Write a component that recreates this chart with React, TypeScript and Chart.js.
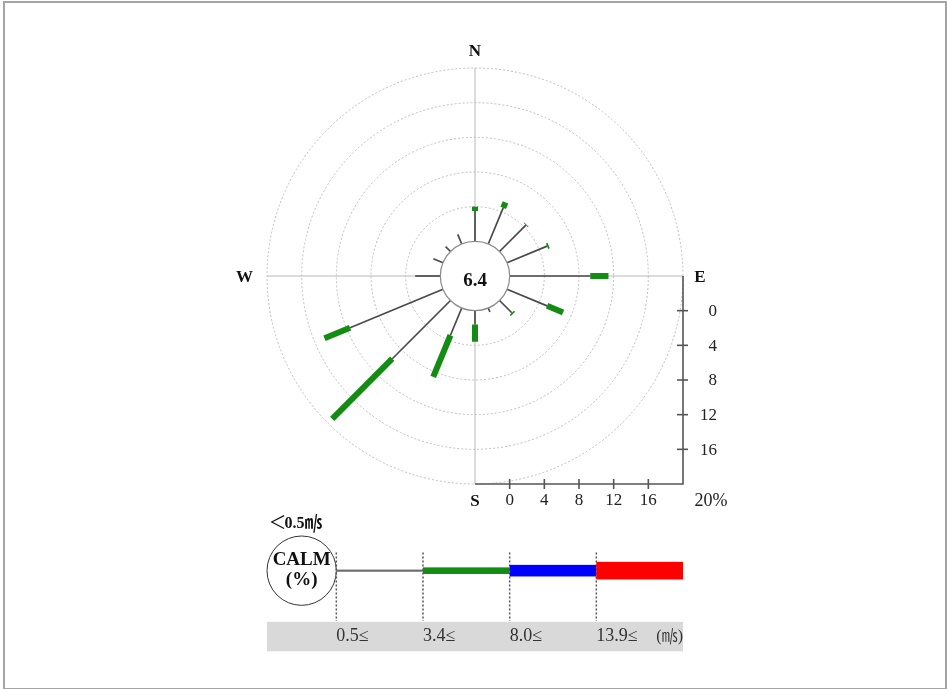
import React, { useEffect, useRef } from "react";
import { Chart, registerables } from "chart.js";

Chart.register(...registerables);

// ---------- data ----------
const directions = ["N", "NNE", "NE", "ENE", "E", "ESE", "SE", "SSE", "S", "SSW", "SW", "WSW", "W", "WNW", "NW", "NNW"];
const speedClassLabels = ["0.5≤", "3.4≤", "8.0≤", "13.9≤"];
const speedUnitLabel = "(㎧)";
const calmLess = "＜";
const calmThreshold = "0.5";
const calmUnit = "㎧";
// frequency (%) per direction for each speed class
const class1 = [3.5, 4.5, 4.3, 5.0, 9.3, 5.0, 2.0, 0.5, 1.6, 3.4, 9.5, 11.6, 2.9, 1.2, 0.8, 1.2];
const class2 = [0.5, 0.7, 0.1, 0.2, 2.1, 2.0, 0.2, 0, 2.0, 5.2, 9.8, 3.2, 0, 0, 0, 0];
const class3 = [0, 0, 0, 0, 0, 0, 0, 0, 0, 0, 0, 0, 0, 0, 0, 0];
const class4 = [0, 0, 0, 0, 0, 0, 0, 0, 0, 0, 0, 0, 0, 0, 0, 0];
const calmPercent = 6.4;
const axisTicks = [0, 4, 8, 12, 16];
const axisMaxLabel = "20%";
const axisMax = 20;
const cardinalLabels = ["N", "E", "S", "W"];

// ---------- style ----------
const CALM_R = 4; // radius of calm circle in axis units
const OUTER = CALM_R + axisMax;
const classColors = ["#4a4a4a", "#128c12", "#0000ff", "#ff0000"];
const classWidths = [1.7, 6, 11, 17];
const FONT = "'Liberation Serif', 'Times New Roman', 'Noto Sans CJK JP', serif";

const series = [class1, class2, class3, class4];

function buildDatasets() {
  const ds: any[] = [];
  directions.forEach((_, i) => {
    const ang = (i * 22.5 * Math.PI) / 180;
    let cum = 0;
    series.forEach((vals, c) => {
      const v = vals[i];
      if (v > 0) {
        const r0 = CALM_R + cum;
        const r1 = CALM_R + cum + v;
        ds.push({
          label: directions[i] + " " + speedClassLabels[c],
          data: [
            { x: r0 * Math.sin(ang), y: r0 * Math.cos(ang) },
            { x: r1 * Math.sin(ang), y: r1 * Math.cos(ang) },
          ],
          showLine: true,
          borderColor: classColors[c],
          backgroundColor: classColors[c],
          borderWidth: classWidths[c],
          borderCapStyle: "butt",
          pointRadius: 0,
          pointHoverRadius: 0,
          clip: false,
        });
        cum += v;
      }
    });
  });
  return ds;
}

const rosePlugin = {
  id: "rosePlugin",
  beforeDatasetsDraw(chart: any) {
    const { ctx } = chart;
    const xs = chart.scales.x;
    const ys = chart.scales.y;
    const px = (v: number) => xs.getPixelForValue(v);
    const py = (v: number) => ys.getPixelForValue(v);
    const unit = px(1) - px(0);
    const cx = px(0);
    const cy = py(0);
    ctx.save();
    // spokes N/E/S/W
    ctx.strokeStyle = "#dcdcdc";
    ctx.lineWidth = 2;
    ctx.setLineDash([]);
    [
      [0, OUTER],
      [OUTER, 0],
      [0, -OUTER],
      [-OUTER, 0],
    ].forEach(([x, y]) => {
      ctx.beginPath();
      ctx.moveTo(cx, cy);
      ctx.lineTo(px(x), py(y));
      ctx.stroke();
    });
    // dotted rings
    ctx.strokeStyle = "#bdbdbd";
    ctx.lineWidth = 1;
    ctx.setLineDash([2, 2]);
    axisTicks.concat([axisMax]).forEach((t) => {
      if (t === 0) return;
      ctx.beginPath();
      ctx.arc(cx, cy, (CALM_R + t) * unit, 0, Math.PI * 2);
      ctx.stroke();
    });
    ctx.setLineDash([]);
    // frame axes
    ctx.strokeStyle = "#555";
    ctx.lineWidth = 1.6;
    ctx.beginPath();
    ctx.moveTo(px(OUTER), py(0));
    ctx.lineTo(px(OUTER), py(-OUTER));
    ctx.lineTo(px(0), py(-OUTER));
    ctx.stroke();
    // ticks
    ctx.fillStyle = "#222";
    ctx.font = `17px ${FONT}`;
    axisTicks.forEach((t) => {
      const yy = py(-(CALM_R + t));
      ctx.beginPath();
      ctx.moveTo(px(OUTER) - 6, yy);
      ctx.lineTo(px(OUTER) + 5, yy);
      ctx.stroke();
      ctx.textAlign = "right";
      ctx.textBaseline = "middle";
      ctx.fillText(String(t), px(OUTER) + 34, yy + 1);
      const xx = px(CALM_R + t);
      ctx.beginPath();
      ctx.moveTo(xx, py(-OUTER) - 5);
      ctx.lineTo(xx, py(-OUTER) + 5);
      ctx.stroke();
      ctx.textAlign = "center";
      ctx.fillText(String(t), xx, py(-OUTER) + 17);
    });
    ctx.textAlign = "center";
    ctx.font = `18px ${FONT}`;
    ctx.fillText(axisMaxLabel, px(OUTER) + 28, py(-OUTER) + 17);
    // cardinal labels
    ctx.font = `bold 17px ${FONT}`;
    ctx.fillStyle = "#111";
    ctx.textBaseline = "middle";
    const lp = OUTER + 2;
    ctx.fillText(cardinalLabels[0], px(0), py(lp) + 1);
    ctx.fillText(cardinalLabels[1], px(lp) - 0.5, py(0) + 2);
    ctx.fillText(cardinalLabels[2], px(0), py(-lp));
    ctx.fillText(cardinalLabels[3], px(-lp - 0.6), py(0) + 2);
    ctx.restore();
  },
  afterDatasetsDraw(chart: any) {
    const { ctx } = chart;
    const xs = chart.scales.x;
    const ys = chart.scales.y;
    const px = (v: number) => xs.getPixelForValue(v);
    const py = (v: number) => ys.getPixelForValue(v);
    const unit = px(1) - px(0);
    const cx = px(0);
    const cy = py(0);
    ctx.save();
    // calm circle
    ctx.beginPath();
    ctx.arc(cx, cy, CALM_R * unit, 0, Math.PI * 2);
    ctx.fillStyle = "#fff";
    ctx.fill();
    ctx.strokeStyle = "#8a8a8a";
    ctx.lineWidth = 1.2;
    ctx.stroke();
    ctx.fillStyle = "#111";
    ctx.font = `bold 19px ${FONT}`;
    ctx.textAlign = "center";
    ctx.textBaseline = "middle";
    ctx.fillText(calmPercent.toFixed(1), cx, cy + 5);

    // ----- legend -----
    const legY = -34;
    const segStart = -16;
    const segW = 10;
    // calm legend circle
    const lcx = px(-20);
    const lcy = py(legY);
    ctx.beginPath();
    ctx.arc(lcx, lcy, CALM_R * unit, 0, Math.PI * 2);
    ctx.fillStyle = "#fff";
    ctx.fill();
    ctx.strokeStyle = "#333";
    ctx.lineWidth = 1;
    ctx.stroke();
    ctx.fillStyle = "#111";
    ctx.font = `bold 19px ${FONT}`;
    ctx.fillText("CALM", lcx, lcy - 11);
    ctx.fillText("(%)", lcx, lcy + 9);
    // "<0.5 m/s"
    ctx.textAlign = "left";
    let tx = px(-23.6);
    const ty = py(-28.6);
    ctx.font = `18px ${FONT}`;
    ctx.fillText(calmLess, tx - 2, ty);
    tx += 14;
    ctx.font = `bold 16px ${FONT}`;
    ctx.fillText(calmThreshold, tx, ty);
    tx += ctx.measureText(calmThreshold).width;
    ctx.font = `bold 18px ${FONT}`;
    ctx.fillText(calmUnit, tx, ty);
    // band
    ctx.fillStyle = "#d9d9d9";
    ctx.fillRect(px(-OUTER), py(-39.9), px(OUTER) - px(-OUTER), py(-43.3) - py(-39.9));
    // dotted separators
    ctx.strokeStyle = "#555";
    ctx.lineWidth = 1.5;
    ctx.setLineDash([2, 2]);
    speedClassLabels.forEach((_, c) => {
      const xx = px(segStart + c * segW);
      ctx.beginPath();
      ctx.moveTo(xx, py(-31.9));
      ctx.lineTo(xx, py(-39.8));
      ctx.stroke();
    });
    ctx.setLineDash([]);
    // class bars
    speedClassLabels.forEach((_, c) => {
      const x0 = px(segStart + c * segW);
      const x1 = px(segStart + (c + 1) * segW);
      const h = classWidths[c] + (c === 0 ? 0.4 : 0.6);
      ctx.fillStyle = c === 0 ? "#6a6a6a" : classColors[c];
      ctx.fillRect(x0, lcy - h / 2, x1 - x0, h);
    });
    // class labels
    ctx.fillStyle = "#333";
    ctx.font = `18px ${FONT}`;
    ctx.textAlign = "left";
    ctx.textBaseline = "middle";
    speedClassLabels.forEach((lab, c) => {
      ctx.fillText(lab, px(segStart + c * segW), py(-41.6));
    });
    ctx.font = `16px ${FONT}`;
    ctx.textAlign = "right";
    ctx.fillText(speedUnitLabel, px(OUTER), py(-41.6));

    // page border
    ctx.strokeStyle = "#a4a4a4";
    ctx.lineWidth = 2;
    ctx.strokeRect(4, 2, 942, 687);
    ctx.restore();
  },
};

export default function App() {
  const canvasRef = useRef<HTMLCanvasElement | null>(null);
  useEffect(() => {
    if (!canvasRef.current) return;
    const chart = new Chart(canvasRef.current, {
      type: "scatter",
      data: { datasets: buildDatasets() },
      options: {
        animation: false,
        responsive: false,
        maintainAspectRatio: false,
        devicePixelRatio: 1,
        layout: { padding: { left: 267, right: 264, top: 68, bottom: 205 }, autoPadding: false },
        scales: {
          x: { type: "linear", min: -OUTER, max: OUTER, display: false },
          y: { type: "linear", min: -OUTER, max: OUTER, display: false },
        },
        plugins: { legend: { display: false }, tooltip: { enabled: false } },
        events: [],
      } as any,
      plugins: [rosePlugin],
    });
    return () => chart.destroy();
  }, []);
  return (
    <div style={{ position: "absolute", left: 0, top: 0, width: 947, height: 689, background: "#fff" }}>
      <canvas ref={canvasRef} width={947} height={689} style={{ display: "block", width: 947, height: 689 }} />
    </div>
  );
}
